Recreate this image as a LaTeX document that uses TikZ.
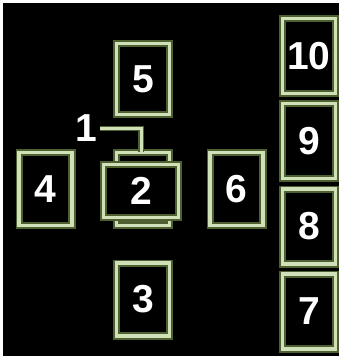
\documentclass[tikz,border=0pt]{standalone}
\usepackage{fontspec}
\setmainfont{Liberation Sans}
\definecolor{sage}{RGB}{208,224,184}
\definecolor{moss}{RGB}{78,96,48}
\tikzset{
  slot/.style={draw=moss, double=sage, line width=1.8pt, double distance=3.6pt,
    minimum width=52.8pt, minimum height=72.8pt, inner sep=0pt,
    text=white, font=\bfseries\fontsize{39}{39}\selectfont},
  tall/.style={slot, minimum height=74.8pt},
  wire/.style={draw=moss, double=sage, line width=1.2pt, double distance=3pt}
}
\begin{document}
\begin{tikzpicture}[x=1pt,y=-1pt]
  \fill[white] (0,0) rectangle (339,356);
  \fill[black] (3,3) rectangle (339,356);
  \node[slot, minimum height=70.8pt] (b5) at (143,79) {5};
  \node[slot] (b4) at (45.5,189) {4};
  \fill[moss] (113,215) rectangle (173,229);
  \node[slot] (b2) at (143,189) {};
  \node[slot, fill=black, minimum width=74.8pt, minimum height=52.8pt] (b2w) at (141,191) {2};
  \node[slot] (b6) at (236.5,189) {6};
  \node[slot] (b3) at (143,299.5) {3};
  \foreach \n/\y in {10/56,9/141,8/226.5,7/311.5}
    \node[tall] (b\n) at (309,\y) {\n};
  \node[text=white, inner sep=0pt, font=\bfseries\fontsize{39}{39}\selectfont] (n1) at (86,128.5) {1};
  \draw[wire, shorten <=3pt] (n1.east) -| ([xshift=-2pt]b2.north);
\end{tikzpicture}
\end{document}
